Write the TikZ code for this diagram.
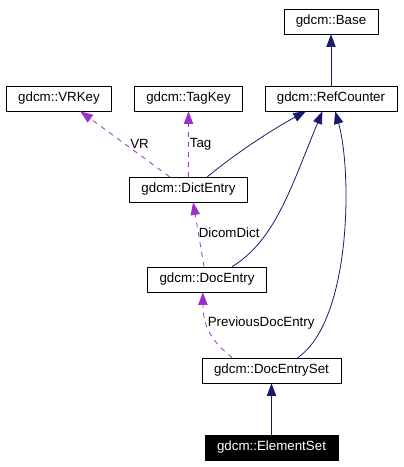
\documentclass[tikz,border=0pt]{standalone}
\usepackage{fontspec}
\setmainfont{Liberation Sans}
\usetikzlibrary{arrows.meta}

\definecolor{inhblue}{RGB}{25,25,112}
\definecolor{usepurple}{RGB}{153,50,204}

\tikzset{
	cls/.style={draw, font=\fontsize{10pt}{12pt}\selectfont,
		minimum height=18.75pt, inner xsep=9pt, inner ysep=0pt},
	curcls/.style={cls, fill=black, text=white},
	inh/.style={draw=inhblue, line width=0.6pt,
		-{Triangle[length=9.5pt,width=7pt]}},
	usage/.style={draw=usepurple, line width=0.6pt,
		dash pattern=on 3.75pt off 3.75pt,
		-{Triangle[length=9.5pt,width=7pt]}},
	lbl/.style={font=\fontsize{10pt}{12pt}\selectfont, inner sep=0pt, anchor=west}
}

\begin{document}
\begin{tikzpicture}[x=0.75pt, y=-0.75pt]
				\useasboundingbox (0,0) rectangle (403,467);

				\node [cls] (base) at (331,21.5) {gdcm::Base};
				\node [cls] (vrkey) at (59,98.5) {gdcm::VRKey};
				\node [cls] (tagkey) at (188.5,98.5) {gdcm::TagKey};
				\node [cls] (refcounter) at (331,98.5) {gdcm::RefCounter};
				\node [cls] (dictentry) at (188.5,189.5) {gdcm::DictEntry};
				\node [cls] (docentry) at (207,279.5) {gdcm::DocEntry};
				\node [cls] (docentryset) at (271.5,370.5) {gdcm::DocEntrySet};
				\node [curcls] (elementset) at (271.5,447.5) {gdcm::ElementSet};

				\draw [inh] (refcounter) -- (base);
				\draw [inh] (elementset) -- (docentryset);

				\draw [inh] (dictentry.34)
					.. controls (240,150) and (275,128) .. (refcounter.207);
				\draw [inh] (docentry.27)
					.. controls (275,240) and (290,190) .. (refcounter.236);
				\draw [inh] (docentryset.26)
					.. controls (352,320) and (352,170) .. (refcounter.288);

				\draw [usage] (dictentry.146)
					-- node [lbl, pos=0.5, xshift=3.75pt] (vrlbl) {VR} (vrkey.329);
				\draw [usage] (dictentry)
					-- node [lbl, pos=0.5, xshift=0.75pt] (taglbl) {Tag} (tagkey);
				\draw [usage] (docentry.103)
					-- node [lbl, pos=0.52] (dicomlbl) {DicomDict} (dictentry.290);
				\draw [usage] (docentryset.162)
					.. controls (210,340) and (203,325) ..
					node [lbl, pos=0.62, xshift=0.75pt] (prevlbl) {PreviousDocEntry} (docentry.252);

			\end{tikzpicture}
\end{document}
